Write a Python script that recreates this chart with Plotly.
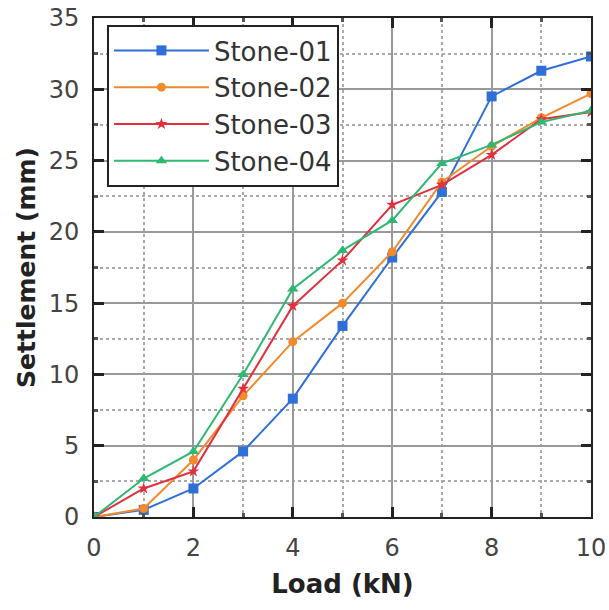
import plotly.graph_objects as go

load = [0, 1, 2, 3, 4, 5, 6, 7, 8, 9, 10]
stone01 = [0, 0.5, 2.0, 4.6, 8.3, 13.4, 18.2, 22.8, 29.5, 31.3, 32.3]
stone02 = [0, 0.6, 4.0, 8.5, 12.3, 15.0, 18.6, 23.5, 26.0, 28.0, 29.7]
stone03 = [0, 2.0, 3.2, 9.0, 14.8, 18.0, 21.9, 23.3, 25.4, 27.9, 28.4]
stone04 = [0, 2.7, 4.6, 10.0, 16.0, 18.7, 20.8, 24.8, 26.1, 27.7, 28.5]

series = [
    ("Stone-01", stone01, "#2f6fd8", "square", 10),
    ("Stone-02", stone02, "#f28a2e", "circle", 9),
    ("Stone-03", stone03, "#e2303e", "star", 9),
    ("Stone-04", stone04, "#2fb872", "triangle-up", 10),
]

fig = go.Figure()
for name, ys, color, sym, size in series:
    fig.add_trace(go.Scatter(
        x=load, y=ys, name=name, mode="lines+markers",
        line=dict(color=color, width=2),
        marker=dict(symbol=sym, size=size, color=color),
    ))

axis_common = dict(
    showline=True, linecolor="#222", linewidth=2, mirror="ticks",
    ticks="inside", ticklen=10, tickwidth=2.5, tickcolor="#222",
    showgrid=True, gridcolor="#999", gridwidth=1.5,
    zeroline=False, automargin=False, ticklabeloverflow="allow",
    tickfont=dict(family="DejaVu Sans", size=24, color="#444"),
)

fig.update_xaxes(
    range=[0, 10], dtick=2, tick0=0, ticklabelstandoff=8,
    title=dict(text="<b>Load (kN)</b>", font=dict(family="DejaVu Sans", size=26, color="#222"), standoff=14),
    minor=dict(dtick=1, showgrid=True, gridcolor="#aaa", griddash="dot", gridwidth=1.5,
               ticks="inside", ticklen=4, tickcolor="#555"),
    **axis_common,
)
fig.update_yaxes(
    range=[0, 35], dtick=5, tick0=0, ticklabelstandoff=8,
    title=dict(text="<b>Settlement (mm)</b>", font=dict(family="DejaVu Sans", size=25, color="#222"), standoff=6),
    minor=dict(dtick=2.5, showgrid=True, gridcolor="#aaa", griddash="dot", gridwidth=1.5,
               ticks="inside", ticklen=4, tickcolor="#555"),
    **axis_common,
)

fig.update_layout(
    width=609, height=610,
    margin=dict(l=94, r=18, t=18, b=93),
    plot_bgcolor="white", paper_bgcolor="white",
    legend=dict(
        x=0.026, y=0.986, xanchor="left", yanchor="top",
        bgcolor="white", bordercolor="#222", borderwidth=2,
        font=dict(family="DejaVu Sans", size=26, color="#333"),
        itemwidth=95, tracegroupgap=0,
    ),
)

fig.write_html(
    "out.html",
    config={"displayModeBar": False},
    post_script="document.body.style.margin='0';document.body.style.overflow='hidden';",
)
